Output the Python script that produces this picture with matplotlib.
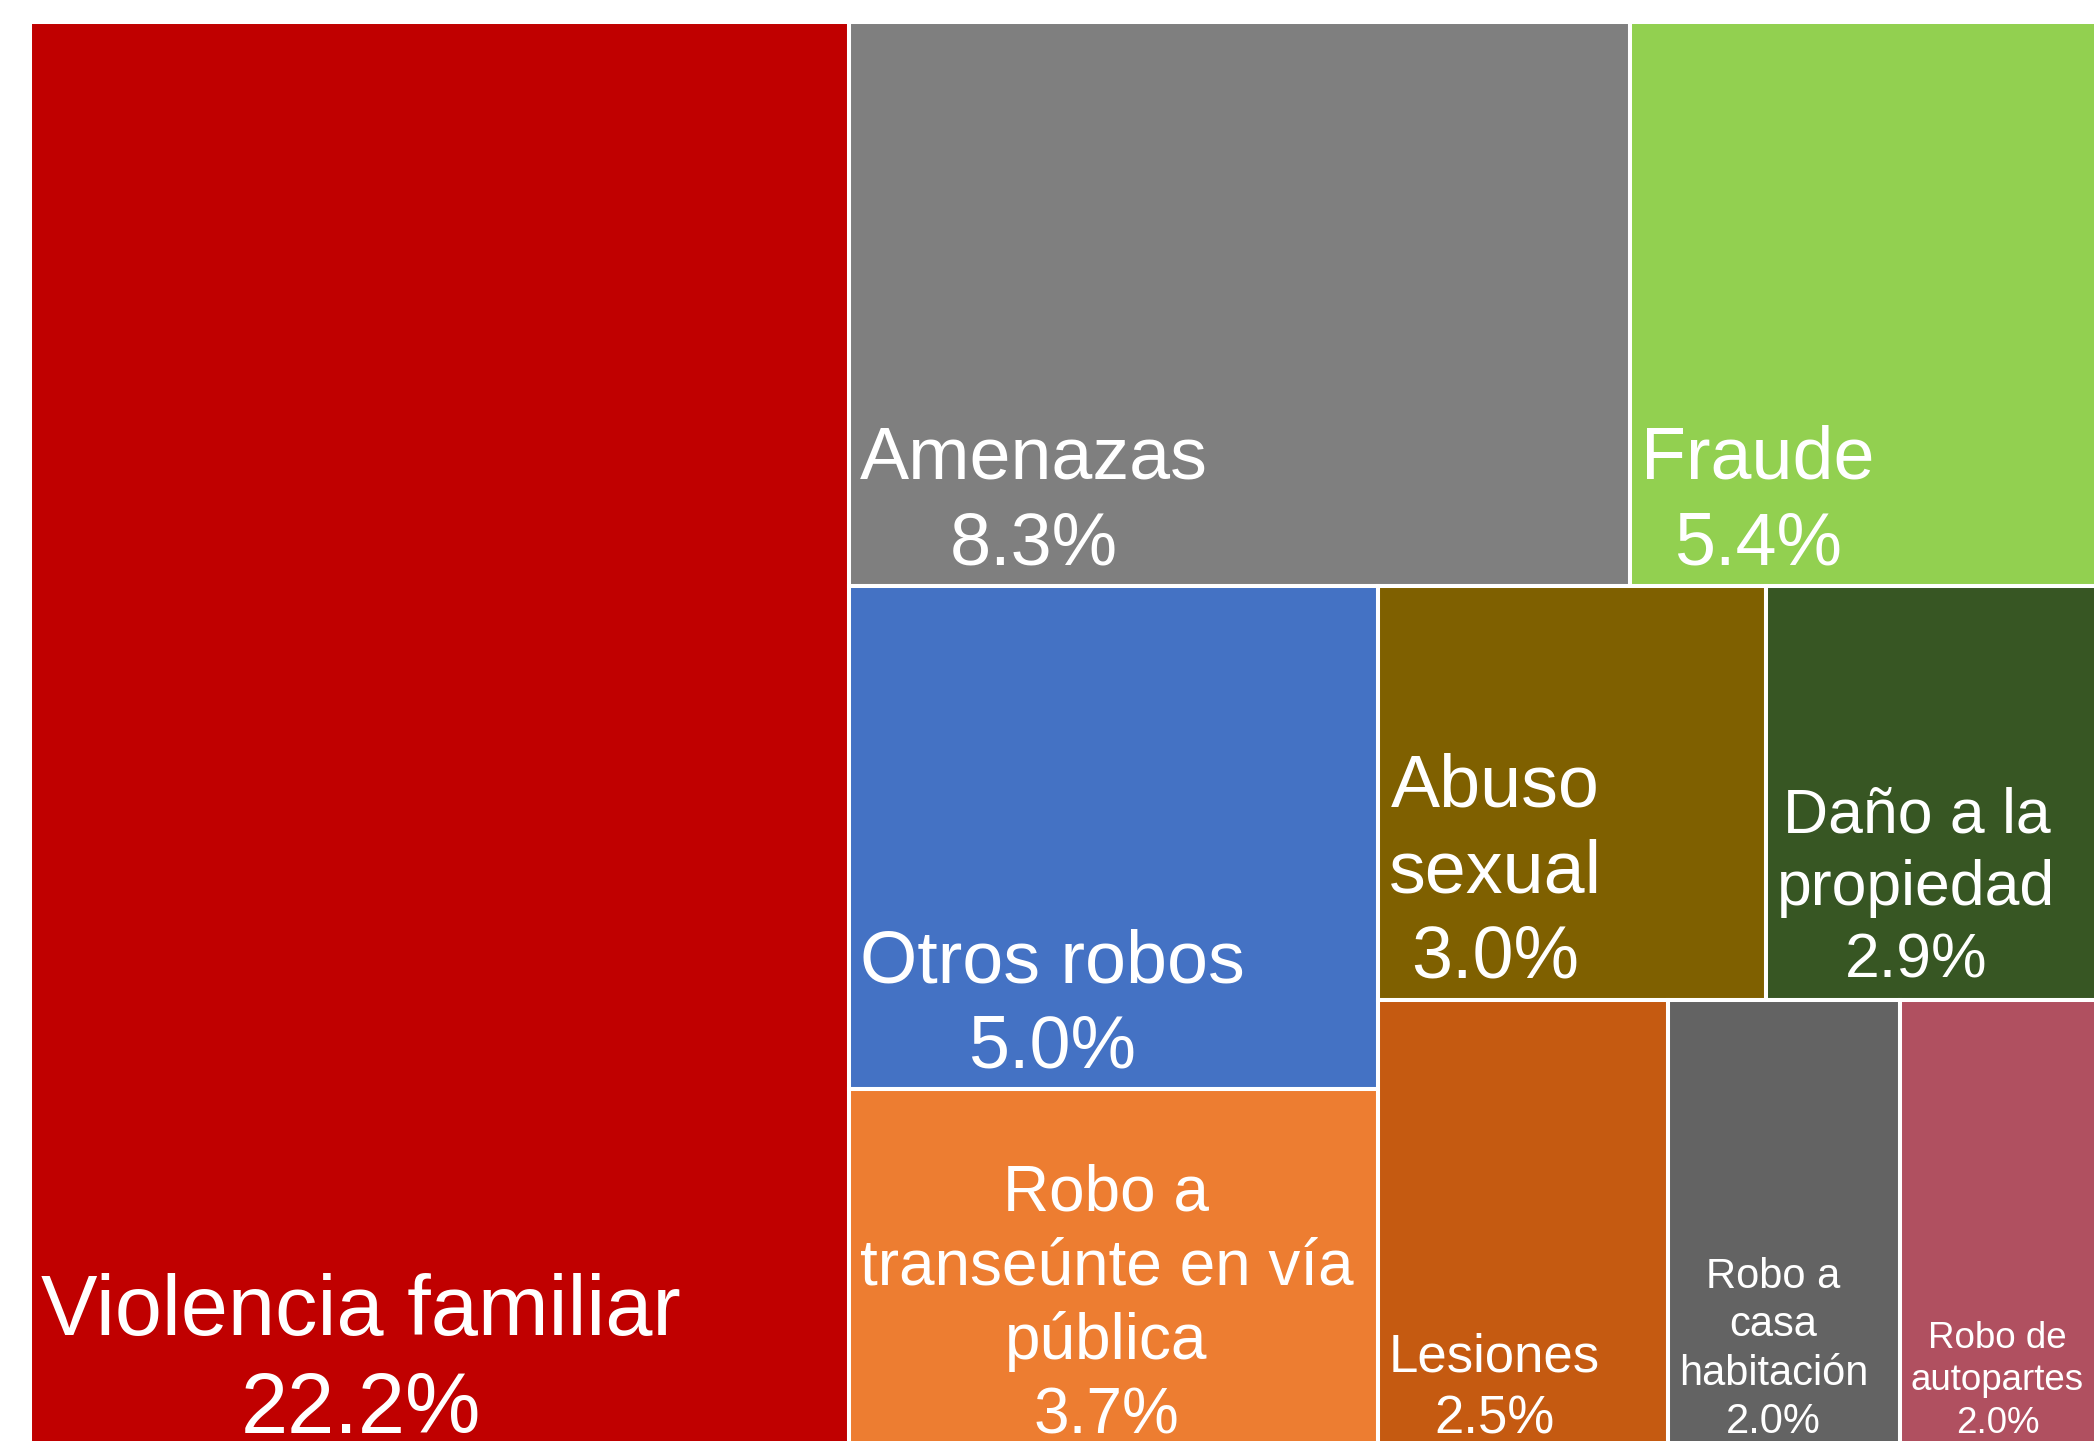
import matplotlib
matplotlib.use('Agg')
import matplotlib.pyplot as plt
from matplotlib.patches import Rectangle

##################################
### data (percent of total reports, labels show one decimal)

categorias = ['Violencia familiar', 'Amenazas', 'Fraude', 'Otros robos',
              'Robo a transeúnte en vía pública', 'Abuso sexual',
              'Daño a la propiedad', 'Lesiones', 'Robo a casa habitación',
              'Robo de autopartes']
porcentajes = [22.2, 8.34, 5.36, 5.04, 3.66, 3.04, 2.86, 2.5, 2.0, 2.0]

colores = ['#C00000', '#7F7F7F', '#92D050', '#4472C4', '#ED7D31',
           '#7F6000', '#375623', '#C55A11', '#636363', '#B05060']
tam_letra = [61, 53, 53, 53, 46, 53, 45, 38, 30, 26.5]

# figure is in pixel units, the treemap is a bit bigger than the picture (cropped)
W_FIG, H_FIG = 2094, 1441
X0, Y0, W_MAP, H_MAP = 30, 22, 2102, 1433
PAD_X = 11
PAD_BASE = 22
INTERLINEA = 1.16


def peor(fila, lado):
    s = sum(fila)
    return max(max(lado * lado * r / (s * s), s * s / (lado * lado * r)) for r in fila)


def squarify(areas, x, y, w, h):
    rects = []
    areas = list(areas)
    while areas:
        lado = min(w, h)
        fila = [areas[0]]
        i = 1
        while i < len(areas) and peor(fila + [areas[i]], lado) <= peor(fila, lado):
            fila.append(areas[i])
            i += 1
        areas = areas[i:]
        s = sum(fila)
        if w >= h:
            cw = s / h
            yy = y
            for a in fila:
                rh = a / cw
                rects.append((x, yy, cw, rh))
                yy += rh
            x += cw
            w -= cw
        else:
            rh = s / w
            xx = x
            for a in fila:
                rw = a / rh
                rects.append((xx, y, rw, rh))
                xx += rw
            y += rh
            h -= rh
    return rects


fuente = ['Liberation Sans', 'DejaVu Sans']

fig = plt.figure(figsize=(W_FIG / 100, H_FIG / 100), dpi=100)
ax = fig.add_axes([0, 0, 1, 1])
ax.set_xlim(0, W_FIG)
ax.set_ylim(H_FIG, 0)
ax.axis('off')
renderer = fig.canvas.get_renderer()


def ancho(texto, fs):
    t = ax.text(0, 0, texto, fontsize=fs, family=fuente)
    w = t.get_window_extent(renderer).width
    t.remove()
    return w


def partir(texto, fs, maxw):
    palabras = texto.split()
    lineas = [palabras[0]]
    for p in palabras[1:]:
        prueba = lineas[-1] + ' ' + p
        if ancho(prueba, fs) <= maxw:
            lineas[-1] = prueba
        else:
            lineas.append(p)
    return lineas


total = sum(porcentajes)
areas = [v / total * W_MAP * H_MAP for v in porcentajes]
rects = squarify(areas, X0, Y0, W_MAP, H_MAP)

for (x, y, w, h), nombre, v, c, fs in zip(rects, categorias, porcentajes, colores, tam_letra):
    ax.add_patch(Rectangle((x, y), w, h, facecolor=c, edgecolor='white', linewidth=2.9))
    lineas = partir(nombre, fs, w - 2 * PAD_X) + ['%.1f%%' % v]
    bloque = max(ancho(l, fs) for l in lineas)
    cx = x + PAD_X + bloque / 2
    fs_px = fs * 100 / 72
    base = y + h - PAD_BASE
    n = len(lineas)
    for i, l in enumerate(lineas):
        yb = base - (n - 1 - i) * INTERLINEA * fs_px
        ax.text(cx, yb, l, ha='center', va='baseline', fontsize=fs,
                family=fuente, color='white')

fig.savefig('out.png', dpi=100, facecolor='white')
